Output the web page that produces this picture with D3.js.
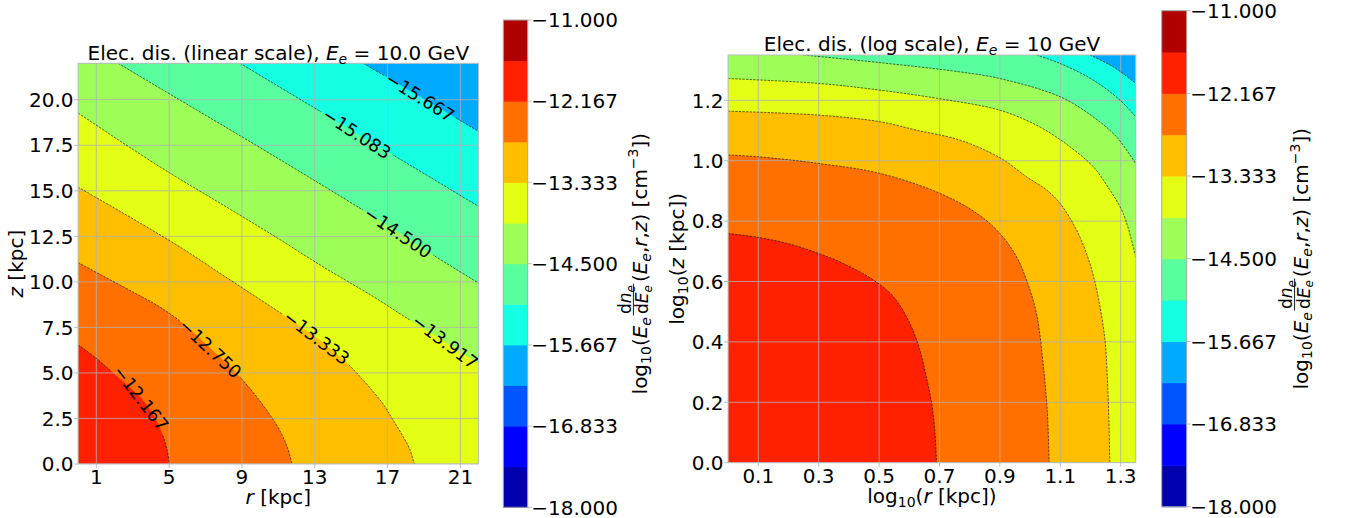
<!DOCTYPE html>
<html>
<head>
<meta charset="utf-8">
<script src="https://cdn.jsdelivr.net/npm/d3@7"></script>
<style>
body { margin: 0; background: #fff; }
text { font-family: "DejaVu Sans", sans-serif; fill: #000; white-space: pre; }
</style>
</head>
<body>
<script>
// contour levels and the jet colours of the 12 bands between them
var levels = [-18, -17.417, -16.833, -16.25, -15.667, -15.083, -14.5, -13.917, -13.333, -12.75, -12.167, -11.583, -11];
var bandColors = ["#0000b0", "#0000ff", "#0055ff", "#00aaff", "#15ffe2", "#59ff9e",
                  "#9eff59", "#e2ff15", "#ffbe00", "#ff7000", "#ff2100", "#b00000"];
var cbarTicks = [-18, -16.833, -15.667, -14.5, -13.333, -12.167, -11];

// left panel: contour lines, [r kpc, z kpc]
var lin12167 = [[0,6.55],[1,5.8],[1.7,5.2],[2.5,4.5],[3.46,3.62],[4,2.9],[4.35,2.3],[4.6,1.7],[4.8,1.1],[4.93,0.55],[5.01,0]];
var lin12750 = [[0,11.06],[1.5,10.25],[3,9.45],[4.1,8.85],[5.05,8.25],[6.2,7.35],[7.27,6.35],[8.53,5.16],[9.6,3.95],[10.5,2.75],[11.1,1.8],[11.5,0.9],[11.75,0]];
var lin13333 = [[0,15.2],[2,14.05],[3.2,13.35],[5.7,11.85],[7.9,10.4],[10.2,8.9],[12.6,7.3],[13.6,6.55],[14.5,5.8],[15.3,5.0],[16.1,4.1],[16.75,3.3],[17.25,2.5],[17.8,1.6],[18.2,0.85],[18.47,0]];
var lin13917 = [[0,19.27],[1.38,18.35],[2.2,17.8],[5,16.0],[8,14.2],[10.8,12.5],[13.5,10.8],[16.2,9.2],[18,8.05],[20.16,6.72],[22,5.5]];
var lin14500 = [[2.2,22],[5.9,19.8],[8.6,18.2],[12.6,15.8],[16.2,13.6],[17.58,12.72],[19.3,11.6],[22,9.93]];
var lin15083 = [[8.9,22],[12.9,19.6],[15.32,18.15],[18.5,16.25],[22,14.14]];
var lin15667 = [[15.67,22],[18.79,20.16],[22,18.26]];

// right panel: same field on log axes, [log10 r, log10 z]
var log12167 = [[0,0.759],[0.1,0.746],[0.2,0.725],[0.299,0.693],[0.381,0.66],[0.481,0.605],[0.547,0.55],[0.602,0.461],[0.635,0.373],[0.655,0.29],[0.674,0.197],[0.685,0.1],[0.69,0]];
var log12750 = [[0,1.019],[0.1,1.013],[0.299,0.991],[0.503,0.958],[0.701,0.892],[0.823,0.826],[0.9,0.759],[0.955,0.682],[0.988,0.605],[1.021,0.495],[1.043,0.329],[1.057,0.17],[1.063,0]];
var log13333 = [[0,1.164],[0.299,1.151],[0.503,1.129],[0.624,1.101],[0.768,1.068],[0.9,1.01],[0.988,0.947],[1.055,0.903],[1.099,0.859],[1.154,0.77],[1.198,0.66],[1.225,0.55],[1.248,0.406],[1.256,0.274],[1.261,0.141],[1.264,0]];
var log13917 = [[0,1.272],[0.299,1.256],[0.5,1.234],[0.701,1.205],[0.9,1.167],[1.032,1.112],[1.132,1.046],[1.209,0.98],[1.253,0.92],[1.308,0.826],[1.35,0.68]];
var log14500 = [[0.25,1.35],[0.5,1.325],[0.768,1.294],[0.9,1.272],[1.099,1.212],[1.209,1.145],[1.286,1.079],[1.35,0.99]];
var log15083 = [[1.021,1.35],[1.099,1.322],[1.209,1.267],[1.297,1.201],[1.35,1.145]];
var log15667 = [[1.198,1.35],[1.275,1.311],[1.35,1.256]];

var linXTicks = [1, 5, 9, 13, 17, 21];
var linYTicks = [0, 2.5, 5, 7.5, 10, 12.5, 15, 17.5, 20];
var logXTicks = [0.1, 0.3, 0.5, 0.7, 0.9, 1.1, 1.3];
var logYTicks = [0, 0.2, 0.4, 0.6, 0.8, 1.0, 1.2];

var FS = 20;
var fmt3 = d3.format(".3f"), fmt1 = d3.format(".1f");

var svg = d3.select("body").append("svg").attr("width", 1347).attr("height", 518);

// lays out a run of text pieces (italic, sub/superscript, fraction) from x = 0
function richText(g, pieces, size) {
  var x = 0;
  pieces.forEach(function(p) {
    if (p.frac) {
      var num = richText(g.append("g"), p.frac[0], size * 0.85);
      var den = richText(g.append("g"), p.frac[1], size * 0.85);
      var w = Math.max(num.w, den.w) + 3;
      x += 1.5;
      num.g.attr("transform", "translate(" + (x + (w - num.w) / 2) + "," + (-size * 0.8) + ")");
      den.g.attr("transform", "translate(" + (x + (w - den.w) / 2) + "," + (size * 0.08) + ")");
      g.append("line").attr("x1", x).attr("x2", x + w)
        .attr("y1", -size * 0.67).attr("y2", -size * 0.67)
        .attr("stroke", "#000").attr("stroke-width", 0.9);
      x += w + 1.5;
      return;
    }
    var fs = (p.sub || p.sup) ? size * 0.7 : size;
    var dy = p.sub ? size * 0.22 : (p.sup ? -size * 0.42 : 0);
    var t = g.append("text").attr("x", x).attr("y", dy).style("font-size", fs + "px").text(p.t);
    if (p.it) t.style("font-style", "italic");
    x += t.node().getComputedTextLength();
  });
  return {g: g, w: x};
}

function placeText(pieces, cx, baseline, rotate) {
  var outer = svg.append("g");
  var inner = outer.append("g");
  var r = richText(inner, pieces, FS);
  inner.attr("transform", "translate(" + (-r.w / 2) + ",0)");
  outer.attr("transform", "translate(" + cx + "," + baseline + ")" + (rotate ? " rotate(" + rotate + ")" : ""));
  return outer;
}

function panel(o) {
  var x = d3.scaleLinear().domain(o.xdom).range([o.left, o.right]);
  var y = d3.scaleLinear().domain(o.ydom).range([o.bottom, o.top]);
  var clipId = "clip" + o.id;
  svg.append("clipPath").attr("id", clipId).append("rect")
    .attr("x", o.left).attr("y", o.top).attr("width", o.right - o.left).attr("height", o.bottom - o.top);
  var plot = svg.append("g").attr("clip-path", "url(#" + clipId + ")");
  var line = d3.line().x(function(d) { return x(d[0]); }).y(function(d) { return y(d[1]); })
    .curve(d3.curveCatmullRom.alpha(0.5));

  plot.append("rect").attr("x", o.left).attr("y", o.top)
    .attr("width", o.right - o.left).attr("height", o.bottom - o.top)
    .attr("fill", bandColors[o.outerBand]);

  // fill from the outermost contour inwards
  o.contours.slice().reverse().forEach(function(c) {
    var p = c.pts, first = p[0], last = p[p.length - 1];
    var d = line(p) + "L" + x(last[0]) + "," + y(o.ydom[0]) +
      "L" + x(o.xdom[0]) + "," + y(o.ydom[0]) +
      "L" + x(o.xdom[0]) + "," + y(first[1]) + "Z";
    plot.append("path").attr("d", d).attr("fill", bandColors[c.lev]);
  });

  // grid
  var grid = plot.append("g").attr("stroke", "#b0b0b0").attr("stroke-width", 0.8);
  o.xticks.forEach(function(t) {
    grid.append("line").attr("x1", x(t)).attr("x2", x(t)).attr("y1", o.top).attr("y2", o.bottom);
  });
  o.yticks.forEach(function(t) {
    grid.append("line").attr("y1", y(t)).attr("y2", y(t)).attr("x1", o.left).attr("x2", o.right);
  });

  // contour lines, with gaps under the inline labels
  var lines = plot.append("g");
  if (o.labels) {
    var mask = svg.append("mask").attr("id", "mask" + o.id);
    mask.append("rect").attr("x", 0).attr("y", 0).attr("width", 1347).attr("height", 518).attr("fill", "#fff");
    var lab = plot.append("g");
    o.labels.forEach(function(l) {
      var cx = x(l[1]), cy = y(l[2]);
      var t = lab.append("text").attr("text-anchor", "middle").attr("dominant-baseline", "central")
        .style("font-size", "17.8px")
        .attr("transform", "translate(" + cx + "," + cy + ") rotate(" + l[3] + ")")
        .text(fmt3(levels[l[0]]));
      var w = t.node().getComputedTextLength() + 6;
      mask.append("rect").attr("x", -w / 2).attr("y", -8).attr("width", w).attr("height", 16)
        .attr("transform", "translate(" + cx + "," + cy + ") rotate(" + l[3] + ")").attr("fill", "#000");
    });
    lines.attr("mask", "url(#mask" + o.id + ")");
    lab.raise();
  }
  o.contours.forEach(function(c) {
    lines.append("path").attr("d", line(c.pts)).attr("fill", "none")
      .attr("stroke", "#000").attr("stroke-width", 0.6).attr("stroke-dasharray", "2.4,1.2");
  });

  // frame and ticks
  svg.append("rect").attr("x", o.left).attr("y", o.top)
    .attr("width", o.right - o.left).attr("height", o.bottom - o.top)
    .attr("fill", "none").attr("stroke", "#bcbcbc").attr("stroke-width", 1);
  var ax = svg.append("g");
  o.xticks.forEach(function(t) {
    ax.append("line").attr("x1", x(t)).attr("x2", x(t)).attr("y1", o.bottom).attr("y2", o.bottom + 4)
      .attr("stroke", "#bcbcbc");
    ax.append("text").attr("x", x(t)).attr("y", o.bottom + 19.8).attr("text-anchor", "middle")
      .style("font-size", FS + "px").text(o.xfmt(t));
  });
  o.yticks.forEach(function(t) {
    ax.append("line").attr("y1", y(t)).attr("y2", y(t)).attr("x1", o.left - 4).attr("x2", o.left)
      .attr("stroke", "#bcbcbc");
    ax.append("text").attr("x", o.left - 4.5).attr("y", y(t)).attr("dy", "0.36em").attr("text-anchor", "end")
      .style("font-size", FS + "px").text(o.yfmt(t));
  });

  var cx = (o.left + o.right) / 2, cy = (o.top + o.bottom) / 2;
  placeText(o.title, cx, o.titleY);
  placeText(o.xlabel, cx, o.bottom + 40);
  placeText(o.ylabel, o.ylabelX, cy, -90);
}

function colorbar(o) {
  var y = d3.scaleLinear().domain([levels[0], levels[levels.length - 1]]).range([o.bottom, o.top]);
  var g = svg.append("g");
  bandColors.forEach(function(c, i) {
    g.append("rect").attr("x", o.left).attr("width", o.right - o.left)
      .attr("y", y(levels[i + 1])).attr("height", y(levels[i]) - y(levels[i + 1]) + 0.5)
      .attr("fill", c);
  });
  g.append("rect").attr("x", o.left).attr("y", o.top).attr("width", o.right - o.left)
    .attr("height", o.bottom - o.top).attr("fill", "none").attr("stroke", "#a8a8a8").attr("stroke-width", 1);
  cbarTicks.forEach(function(t) {
    g.append("line").attr("x1", o.right).attr("x2", o.right + 4).attr("y1", y(t)).attr("y2", y(t))
      .attr("stroke", "#bcbcbc");
    g.append("text").attr("x", o.right + 3.6).attr("y", y(t)).attr("dy", "0.36em")
      .style("font-size", FS + "px").text(fmt3(t));
  });
  placeText(cbarLabel, o.labelX, (o.top + o.bottom) / 2, -90);
}

var cbarLabel = [
  {t: "log"}, {t: "10", sub: 1}, {t: "("}, {t: "E", it: 1}, {t: "e", it: 1, sub: 1},
  {frac: [[{t: "d"}, {t: "n", it: 1}, {t: "e", it: 1, sub: 1}],
          [{t: "d"}, {t: "E", it: 1}, {t: "e", it: 1, sub: 1}]]},
  {t: "("}, {t: "E", it: 1}, {t: "e", it: 1, sub: 1}, {t: ","}, {t: "r", it: 1}, {t: ","},
  {t: "z", it: 1}, {t: ")"}, {t: " [cm"}, {t: "\u22123", sup: 1}, {t: "])"}
];

panel({
  id: "lin", left: 78.1, right: 478.6, top: 63.3, bottom: 464,
  xdom: [0, 22], ydom: [0, 22], outerBand: 3,
  contours: [
    {lev: 10, pts: lin12167}, {lev: 9, pts: lin12750}, {lev: 8, pts: lin13333},
    {lev: 7, pts: lin13917}, {lev: 6, pts: lin14500}, {lev: 5, pts: lin15083}, {lev: 4, pts: lin15667}
  ],
  // [level index, r, z, rotation]
  labels: [[10, 3.46, 3.62, 52], [9, 7.27, 6.35, 43], [8, 13.11, 6.95, 37], [7, 20.16, 6.72, 37],
           [6, 17.58, 12.72, 34], [5, 15.32, 18.15, 33], [4, 18.79, 20.16, 32]],
  xticks: linXTicks, yticks: linYTicks,
  xfmt: String, yfmt: fmt1,
  title: [{t: "Elec. dis. (linear scale), "}, {t: "E", it: 1}, {t: "e", it: 1, sub: 1}, {t: " = 10.0 GeV"}],
  titleY: 60,
  xlabel: [{t: "r", it: 1}, {t: " [kpc]"}],
  ylabel: [{t: "z", it: 1}, {t: " [kpc]"}],
  ylabelX: 23
});

panel({
  id: "log", left: 728.1, right: 1135.8, top: 55, bottom: 462.7,
  xdom: [0, 1.35], ydom: [0, 1.35], outerBand: 3,
  contours: [
    {lev: 10, pts: log12167}, {lev: 9, pts: log12750}, {lev: 8, pts: log13333},
    {lev: 7, pts: log13917}, {lev: 6, pts: log14500}, {lev: 5, pts: log15083}, {lev: 4, pts: log15667}
  ],
  xticks: logXTicks, yticks: logYTicks,
  xfmt: fmt1, yfmt: fmt1,
  title: [{t: "Elec. dis. (log scale), "}, {t: "E", it: 1}, {t: "e", it: 1, sub: 1}, {t: " = 10 GeV"}],
  titleY: 50.5,
  xlabel: [{t: "log"}, {t: "10", sub: 1}, {t: "("}, {t: "r", it: 1}, {t: " [kpc])"}],
  ylabel: [{t: "log"}, {t: "10", sub: 1}, {t: "("}, {t: "z", it: 1}, {t: " [kpc])"}],
  ylabelX: 683.5
});

colorbar({left: 503.3, right: 527.7, top: 20, bottom: 507.3, labelX: 646.8});
colorbar({left: 1161.7, right: 1186.7, top: 10.7, bottom: 506.7, labelX: 1308});
</script>
</body>
</html>
